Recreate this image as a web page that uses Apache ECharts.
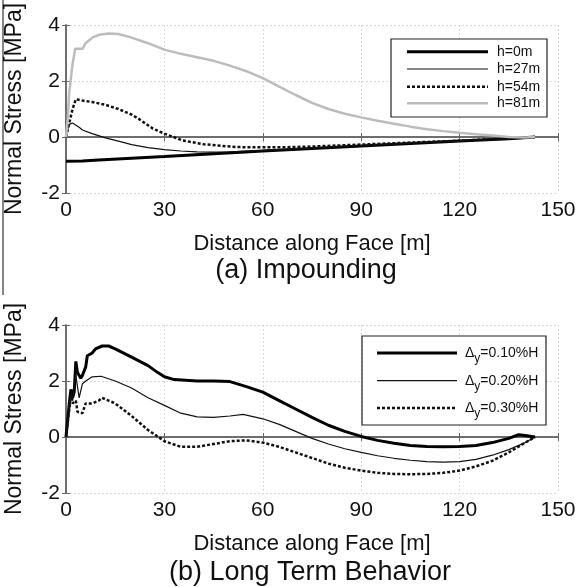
<!DOCTYPE html>
<html><head><meta charset="utf-8">
<script src="https://cdn.jsdelivr.net/npm/echarts@6/dist/echarts.min.js"></script>
<style>html,body{margin:0;padding:0;background:#fff}#c{width:578px;height:587px}</style>
</head><body><div id="c"></div>
<script>
// ---- data ----
const xTicks = [0, 30, 60, 90, 120, 150];
const yTicks = [-2, 0, 2, 4];
const titlesTxt = ['(a) Impounding', '(b) Long Term Behavior'];
const xName = 'Distance along Face [m]';
const yName = 'Normal Stress [MPa]';

// (a) Impounding
const namesA = ['h=0m', 'h=27m', 'h=54m', 'h=81m'];
const h0 = [[0,-0.87],[5,-0.86],[10,-0.82],[20,-0.76],[30,-0.70],[45,-0.60],[60,-0.50],[75,-0.41],[90,-0.32],[105,-0.23],[120,-0.14],[135,-0.06],[143,0]];
const h27 = [[0,0.1],[1,0.45],[2,0.5],[4,0.35],[5,0.25],[8,0.12],[12,-0.03],[16,-0.15],[20,-0.27],[25,-0.38],[30,-0.45],[35,-0.5],[40,-0.53],[45,-0.54],[50,-0.53],[60,-0.48],[75,-0.40],[90,-0.31],[105,-0.22],[120,-0.13],[135,-0.05],[143,0]];
const h54 = [[0,0],[1,0.5],[2,1.0],[3,1.35],[5,1.3],[8,1.25],[12,1.15],[16,1.0],[20,0.8],[22,0.66],[26.5,0.3],[30,0.12],[35.5,-0.12],[42,-0.26],[52,-0.36],[60,-0.37],[69,-0.36],[75,-0.34],[90,-0.27],[105,-0.2],[120,-0.13],[135,-0.05],[143,0]];
const h81 = [[0,0],[0.5,0.6],[1,1.6],[2,2.6],[2.8,3.15],[5,3.15],[6,3.35],[8,3.55],[10,3.65],[13,3.7],[16,3.68],[20,3.55],[25,3.35],[30,3.12],[35,2.97],[40,2.85],[45,2.72],[50,2.55],[55,2.35],[60,2.1],[65,1.8],[70,1.5],[75,1.22],[80,1.0],[85,0.83],[90,0.7],[95,0.58],[100,0.47],[105,0.37],[110,0.28],[115,0.21],[120,0.15],[125,0.1],[130,0.05],[135,0.0],[140,-0.02],[143,0]];

// (b) Long Term Behavior
const namesB = ['Δy=0.10%H', 'Δy=0.20%H', 'Δy=0.30%H'];
const labelsB = ['=0.10%H', '=0.20%H', '=0.30%H'];
const d010 = [[0,0],[1,1.2],[1.5,1.7],[2,1.4],[2.5,1.6],[3,2.7],[3.5,2.3],[4.5,2.1],[5,2.2],[6,2.5],[6.5,2.9],[8,3.0],[9,3.15],[11,3.25],[13,3.25],[15,3.15],[20,2.85],[25,2.55],[28,2.3],[30,2.15],[33,2.05],[40,2.0],[45,2.0],[50,1.98],[55,1.8],[60,1.6],[65,1.3],[70,1.0],[75,0.7],[80,0.42],[85,0.2],[90,0.02],[95,-0.12],[100,-0.22],[105,-0.3],[110,-0.34],[115,-0.35],[120,-0.34],[125,-0.3],[130,-0.2],[135,-0.05],[138,0.08],[140,0.05],[143,0]];
const d020 = [[0,0],[1,1.0],[1.5,1.6],[2,1.3],[3,2.2],[4,1.4],[5,1.9],[6,2.0],[8,2.15],[10.7,2.17],[15,2.0],[20,1.75],[25,1.4],[30,1.13],[35,0.85],[40,0.72],[45,0.7],[50,0.75],[54,0.81],[60,0.65],[65,0.45],[70,0.2],[75,-0.05],[80,-0.25],[85,-0.42],[90,-0.55],[95,-0.67],[100,-0.76],[105,-0.83],[110,-0.88],[115,-0.9],[120,-0.88],[125,-0.8],[130,-0.65],[135,-0.45],[140,-0.2],[143,0]];
const d030 = [[0,0],[1,1.0],[1.5,1.5],[2,1.2],[3,1.3],[3.5,0.9],[5,0.85],[6,1.2],[8,1.2],[10,1.3],[11,1.4],[13,1.3],[15,1.2],[20,0.75],[25,0.25],[30,-0.15],[35,-0.35],[40,-0.35],[45,-0.25],[50,-0.15],[55,-0.12],[60,-0.2],[65,-0.35],[70,-0.55],[75,-0.75],[80,-0.95],[85,-1.1],[90,-1.2],[95,-1.28],[100,-1.32],[105,-1.33],[110,-1.32],[115,-1.28],[120,-1.2],[125,-1.05],[130,-0.85],[135,-0.55],[140,-0.2],[143,0]];

// ---- styles ----
const FONT = 'Liberation Sans, Arial, sans-serif';
const stylesA = [
  {color: '#000', width: 3, type: 'solid'},
  {color: '#111', width: 1.2, type: 'solid'},
  {color: '#111', width: 2.5, type: [3, 2]},
  {color: '#bcbcbc', width: 2.5, type: 'solid'}
];
const stylesB = [
  {color: '#000', width: 3, type: 'solid'},
  {color: '#111', width: 1.2, type: 'solid'},
  {color: '#111', width: 2.5, type: [3, 2]}
];

const chart = echarts.init(document.getElementById('c'), null, {renderer: 'canvas'});
const grids = [
  {left: 66, top: 25, width: 492, height: 168, containLabel: false, outerBoundsMode: 'none'},
  {left: 66, top: 325, width: 492, height: 168, containLabel: false, outerBoundsMode: 'none'}
];
function xAxes(gi) {
  return [{
    type: 'value', gridIndex: gi, min: 0, max: 150, interval: 30, position: 'bottom',
    name: xName, nameLocation: 'middle', nameGap: 40,
    nameTextStyle: {fontFamily: FONT, fontSize: 22, color: '#111'},
    axisLine: {show: true, lineStyle: {color: '#666', width: 1.5}},
    axisTick: {show: true, inside: true, length: 4, lineStyle: {color: '#666'}},
    axisLabel: {fontFamily: FONT, fontSize: 21, color: '#111', margin: 7},
    splitLine: {show: true, lineStyle: {color: '#d8d8d8', width: 1, type: [2, 2]}}
  }, {
    type: 'value', gridIndex: gi, min: 0, max: 150, interval: 30, position: 'top',
    axisLine: {show: true, lineStyle: {color: '#666', width: 1.5}},
    axisTick: {show: true, inside: true, length: 4, lineStyle: {color: '#666'}},
    axisLabel: {show: false}, splitLine: {show: false}
  }];
}
function yAxes(gi) {
  return [{
    type: 'value', gridIndex: gi, min: -2, max: 4, interval: 2, position: 'left',
    name: yName, nameLocation: 'middle', nameGap: 40,
    nameTextStyle: {fontFamily: FONT, fontSize: 23, color: '#111'},
    axisLine: {show: true, lineStyle: {color: '#666', width: 1.5}},
    axisTick: {show: true, inside: true, length: 4, lineStyle: {color: '#666'}},
    axisLabel: {fontFamily: FONT, fontSize: 21, color: '#111', margin: 6},
    splitLine: {show: true, lineStyle: {color: '#d8d8d8', width: 1, type: [2, 2]}}
  }, {
    type: 'value', gridIndex: gi, min: -2, max: 4, interval: 2, position: 'right',
    axisLine: {show: true, lineStyle: {color: '#666', width: 1.5}},
    axisTick: {show: true, inside: true, length: 4, lineStyle: {color: '#666'}},
    axisLabel: {show: false}, splitLine: {show: false}
  }];
}
function line(name, data, gi, st) {
  return {
    name: name, type: 'line', data: data, xAxisIndex: gi * 2, yAxisIndex: gi * 2,
    showSymbol: false, symbol: 'none', smooth: false, z: 3,
    lineStyle: {color: st.color, width: st.width, type: st.type},
    itemStyle: {color: st.color}
  };
}
// legend drawn as boxed samples
function legendBox(box, lineX1, lineX2, textX, rowYs, styles, texts) {
  const els = [{type: 'rect', shape: {x: box[0], y: box[1], width: box[2], height: box[3]},
    style: {fill: '#fff', stroke: '#222', lineWidth: 1.2}, z: 10}];
  styles.forEach(function (st, i) {
    els.push({type: 'line', shape: {x1: lineX1, y1: rowYs[i], x2: lineX2, y2: rowYs[i]},
      style: {stroke: st.color, lineWidth: st.width, lineDash: st.type === 'solid' ? null : st.type}, z: 11});
    els.push({type: 'text', x: textX, y: rowYs[i], z: 11, style: texts[i]});
  });
  return els;
}
const txtA = namesA.map(function (n) {
  return {text: n, font: '14px ' + FONT, fill: '#111', verticalAlign: 'middle', align: 'left'};
});
const txtB = labelsB.map(function (l) {
  return {text: '{d|Δ}{s|y}{d|' + l + '}', fill: '#111', verticalAlign: 'middle', align: 'left',
    font: '14px ' + FONT,
    rich: {d: {fontFamily: FONT, fontSize: 14, fill: '#111'},
           s: {fontFamily: FONT, fontSize: 12, fill: '#111', padding: [12, 0, 0, 0]}}};
});

const option = {
  animation: false,
  backgroundColor: '#fff',
  title: [
    {text: titlesTxt[0], left: 306, top: 257, textAlign: 'center', padding: 0,
     textStyle: {fontFamily: FONT, fontSize: 27, fontWeight: 'normal', color: '#111'}},
    {text: titlesTxt[1], left: 310, top: 559, textAlign: 'center', padding: 0,
     textStyle: {fontFamily: FONT, fontSize: 27, fontWeight: 'normal', color: '#111'}}
  ],
  grid: grids,
  xAxis: xAxes(0).concat(xAxes(1)),
  yAxis: yAxes(0).concat(yAxes(1)),
  graphic: [{type: 'line', shape: {x1: 3, y1: 0, x2: 3, y2: 295}, style: {stroke: '#333', lineWidth: 1.2}}]
    .concat(legendBox([391, 39, 156, 78], 407, 488, 497, [51.7, 69, 86.7, 103.3], stylesA, txtA))
    .concat(legendBox([362, 336, 184, 89], 377, 457, 465, [353, 380.7, 408], stylesB, txtB)),
  series: [
    line(namesA[0], h0, 0, stylesA[0]),
    line(namesA[1], h27, 0, stylesA[1]),
    line(namesA[2], h54, 0, stylesA[2]),
    line(namesA[3], h81, 0, stylesA[3]),
    line(namesB[0], d010, 1, stylesB[0]),
    line(namesB[1], d020, 1, stylesB[1]),
    line(namesB[2], d030, 1, stylesB[2])
  ]
};
chart.setOption(option);
</script></body></html>
